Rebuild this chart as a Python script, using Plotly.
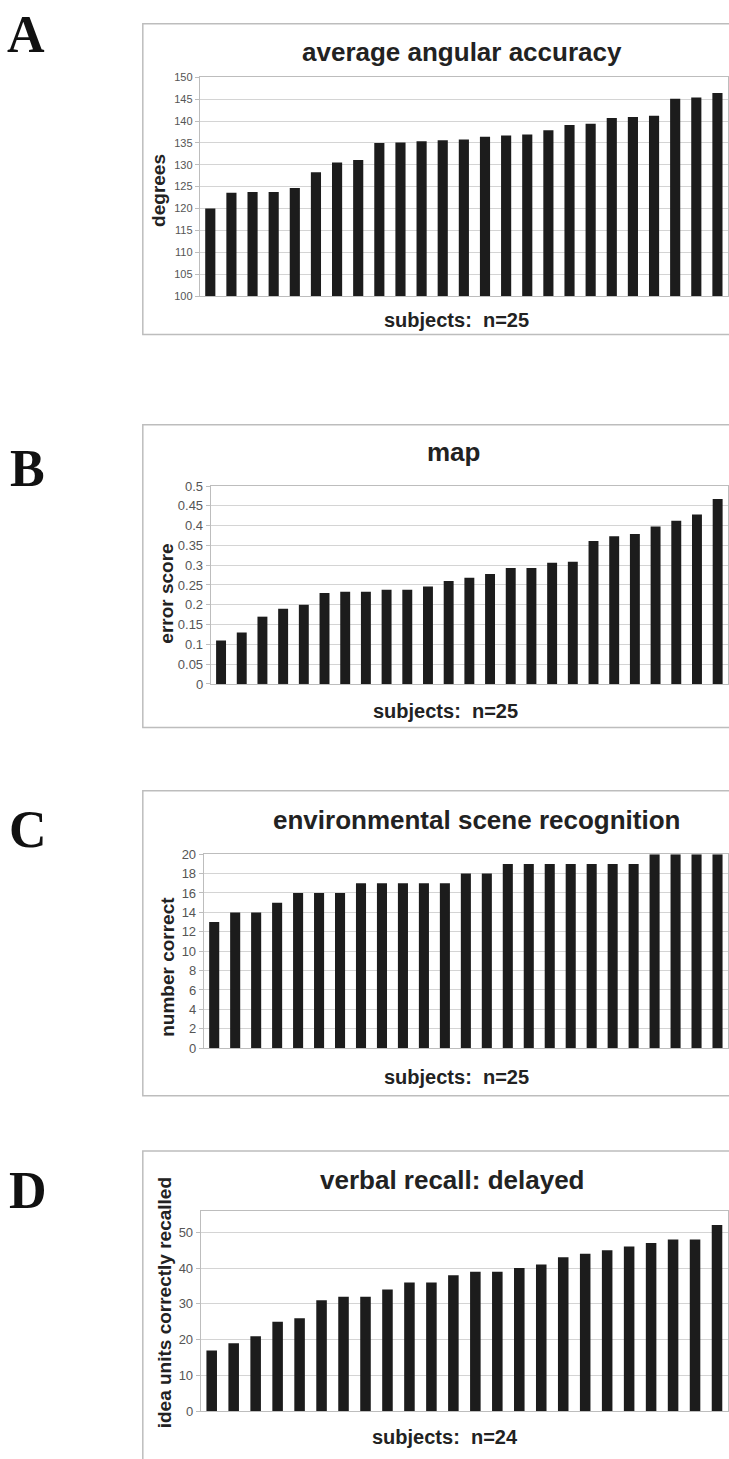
import plotly.graph_objects as go

# ---------------- data ----------------
subjects_a = list(range(1, 26))
angular_accuracy = [120.0, 123.6, 123.8, 123.8, 124.7, 128.3, 130.5, 131.1, 135.0, 135.1,
                    135.4, 135.6, 135.8, 136.4, 136.7, 136.9, 137.9, 139.1, 139.4, 140.7,
                    140.9, 141.2, 145.1, 145.4, 146.4]

subjects_b = list(range(1, 26))
map_error = [0.11, 0.13, 0.17, 0.19, 0.20, 0.23, 0.233, 0.233, 0.238, 0.238,
             0.246, 0.26, 0.268, 0.278, 0.293, 0.293, 0.306, 0.309, 0.361, 0.373,
             0.379, 0.398, 0.412, 0.428, 0.467]

subjects_c = list(range(1, 26))
scene_correct = [13, 14, 14, 15, 16, 16, 16, 17, 17, 17, 17, 17, 18, 18, 19,
                 19, 19, 19, 19, 19, 19, 20, 20, 20, 20]

subjects_d = list(range(1, 25))
verbal_recall = [17, 19, 21, 25, 26, 31, 32, 32, 34, 36, 36, 38, 39, 39, 40,
                 41, 43, 44, 45, 46, 47, 48, 48, 52]

ticks_a = [100, 105, 110, 115, 120, 125, 130, 135, 140, 145, 150]
ticklabels_a = [str(v) for v in ticks_a]
ticks_b = [0, 0.05, 0.1, 0.15, 0.2, 0.25, 0.3, 0.35, 0.4, 0.45, 0.5]
ticklabels_b = ["0", "0.05", "0.1", "0.15", "0.2", "0.25", "0.3", "0.35", "0.4", "0.45", "0.5"]
ticks_c = [0, 2, 4, 6, 8, 10, 12, 14, 16, 18, 20]
ticklabels_c = [str(v) for v in ticks_c]
ticks_d = [0, 10, 20, 30, 40, 50]
ticklabels_d = [str(v) for v in ticks_d]

titles = ["average angular accuracy", "map", "environmental scene recognition",
          "verbal recall: delayed"]
ytitles = ["degrees", "error score", "number correct", "idea units correctly recalled"]
xlabels = ["subjects:  n=25", "subjects:  n=25", "subjects:  n=25", "subjects:  n=24"]
letters = ["A", "B", "C", "D"]

# ---------------- layout helpers ----------------
W, H = 729, 1459
def px(x):
    return x / W
def py(y):
    return 1 - y / H

BAR = "#1c1c1c"
GRID = "#d4d4d4"
FRAME = "#bdbdbd"
TICKC = "#555555"
TXT = "#222222"
SANS = "Liberation Sans, Arial, sans-serif"
SERIF = "Liberation Serif, Times New Roman, serif"

panels = [
    dict(x=subjects_a, y=angular_accuracy, ticks=ticks_a, labels=ticklabels_a, yr=[100, 150],
         box=(143, 17, 331), plot=(200, 71, 292), title=(463, 45), ytit=(158, 185),
         xlab=(457, 316), letter=(26, 28), tsize=11),
    dict(x=subjects_b, y=map_error, ticks=ticks_b, labels=ticklabels_b, yr=[0, 0.5],
         box=(143, 422, 728), plot=(211, 484, 684), title=(454, 450), ytit=(167, 593),
         xlab=(446, 711), letter=(28, 466), tsize=13),
    dict(x=subjects_c, y=scene_correct, ticks=ticks_c, labels=ticklabels_c, yr=[0, 20],
         box=(143, 792, 1100), plot=(204, 856, 1052), title=(477, 821), ytit=(167, 970),
         xlab=(457, 1081), letter=(28, 831), tsize=13),
    dict(x=subjects_d, y=verbal_recall, ticks=ticks_d, labels=ticklabels_d, yr=[0, 55.8],
         box=(143, 1156, 1480), plot=(201, 1217, 1419), title=(453, 1185), ytit=(165, 1309),
         xlab=(446, 1445), letter=(28, 1196), tsize=13),
]

fig = go.Figure()
shapes = []
annotations = []

for i, p in enumerate(panels):
    n = i + 1
    xa = "x" if n == 1 else f"x{n}"
    ya = "y" if n == 1 else f"y{n}"
    fig.add_trace(go.Bar(x=p["x"], y=p["y"], marker=dict(color=BAR, line=dict(width=0)),
                         xaxis=xa, yaxis=ya, showlegend=False, hoverinfo="skip"))
    l, t, b = p["plot"]
    xkey = "xaxis" if n == 1 else f"xaxis{n}"
    ykey = "yaxis" if n == 1 else f"yaxis{n}"
    nb = len(p["x"])
    fig.layout[xkey] = dict(domain=[px(l), 1.0], range=[0.5, nb + 0.5], anchor=ya,
                            showticklabels=False, ticks="", showgrid=False, zeroline=False,
                            showline=True, linecolor=FRAME, linewidth=1, mirror=True,
                            fixedrange=True)
    fig.layout[ykey] = dict(domain=[py(b), py(t)], range=p["yr"], anchor=xa,
                            tickmode="array", tickvals=p["ticks"], ticktext=p["labels"],
                            ticks="outside", ticklen=4, tickcolor=FRAME,
                            tickfont=dict(family=SANS, size=p["tsize"], color=TICKC),
                            showgrid=True, gridcolor=GRID, gridwidth=1, zeroline=False,
                            showline=True, linecolor=FRAME, linewidth=1, mirror=True,
                            fixedrange=True)
    bx, bt, bb = p["box"]
    shapes.append(dict(type="rect", xref="paper", yref="paper",
                       x0=px(bx), x1=1.05, y0=py(bb), y1=py(bt),
                       line=dict(color=FRAME, width=1.5), fillcolor="rgba(0,0,0,0)"))
    annotations.append(dict(text=titles[i], x=px(p["title"][0]), y=py(p["title"][1]),
                            xref="paper", yref="paper", showarrow=False,
                            xanchor="center", yanchor="middle",
                            font=dict(family=SANS, size=26, color=TXT, weight="bold")))
    annotations.append(dict(text=ytitles[i], x=px(p["ytit"][0]), y=py(p["ytit"][1]),
                            xref="paper", yref="paper", showarrow=False, textangle=-90,
                            xanchor="center", yanchor="middle",
                            font=dict(family=SANS, size=19, color=TXT, weight="bold")))
    annotations.append(dict(text=xlabels[i], x=px(p["xlab"][0]), y=py(p["xlab"][1]),
                            xref="paper", yref="paper", showarrow=False,
                            xanchor="center", yanchor="middle",
                            font=dict(family=SANS, size=20, color=TXT, weight="bold")))
    annotations.append(dict(text=letters[i], x=px(p["letter"][0]), y=py(p["letter"][1]),
                            xref="paper", yref="paper", showarrow=False,
                            xanchor="center", yanchor="middle",
                            font=dict(family=SERIF, size=52, color="#111111", weight="bold")))

fig.update_layout(width=W, height=H, autosize=False,
                  margin=dict(l=0, r=0, t=0, b=0, pad=0),
                  paper_bgcolor="white", plot_bgcolor="white",
                  bargap=0.52, shapes=shapes, annotations=annotations)

fig.write_html("out.html",
               config={"displayModeBar": False, "staticPlot": True},
               post_script="document.body.style.margin='0';document.body.style.padding='0';"
                           "document.documentElement.style.overflow='hidden';")
